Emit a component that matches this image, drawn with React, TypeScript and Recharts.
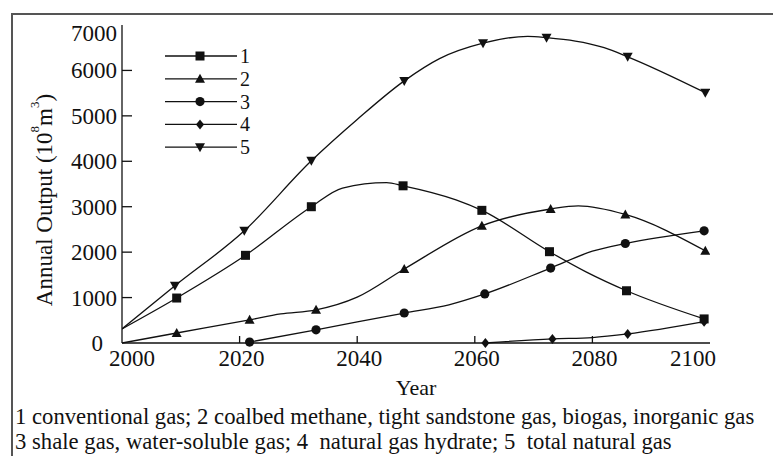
import React from 'react';
import { LineChart, Line, XAxis, YAxis, Legend } from 'recharts';

type Pt = { year: number; value: number; mark?: boolean };

const xTicks = [2000, 2020, 2040, 2060, 2080, 2100];
const yTicks = [0, 1000, 2000, 3000, 4000, 5000, 6000, 7000];

const seriesNames = ['1', '2', '3', '4', '5'];
const seriesShapes = ['square', 'triangle', 'circle', 'diamond', 'down'];

const captionLines = [
  '1 conventional gas; 2 coalbed methane, tight sandstone gas, biogas, inorganic gas',
  '3 shale gas, water-soluble gas; 4  natural gas hydrate; 5  total natural gas',
];

// 1 conventional gas
const conventional: Pt[] = [
  { year: 2000, value: 310 },
  { year: 2009.3, value: 990, mark: true },
  { year: 2021, value: 1930, mark: true },
  { year: 2032.2, value: 3000, mark: true },
  { year: 2037.5, value: 3410 },
  { year: 2045, value: 3530 },
  { year: 2047.8, value: 3460, mark: true },
  { year: 2056.8, value: 3150 },
  { year: 2061.2, value: 2920, mark: true },
  { year: 2072.7, value: 2010, mark: true },
  { year: 2079, value: 1560 },
  { year: 2085.8, value: 1150, mark: true },
  { year: 2099, value: 530, mark: true },
];

// 2 coalbed methane, tight sandstone gas, biogas, inorganic gas
const coalbed: Pt[] = [
  { year: 2000, value: 0 },
  { year: 2009.3, value: 220, mark: true },
  { year: 2021.7, value: 510, mark: true },
  { year: 2027, value: 640 },
  { year: 2033, value: 730, mark: true },
  { year: 2040, value: 1010 },
  { year: 2048, value: 1630, mark: true },
  { year: 2061.2, value: 2580, mark: true },
  { year: 2072.9, value: 2950, mark: true },
  { year: 2077.6, value: 3020 },
  { year: 2085.6, value: 2830, mark: true },
  { year: 2099.2, value: 2030, mark: true },
];

// 3 shale gas, water-soluble gas
const shale: Pt[] = [
  { year: 2021.7, value: 20, mark: true },
  { year: 2033, value: 290, mark: true },
  { year: 2048, value: 660, mark: true },
  { year: 2055.6, value: 840 },
  { year: 2061.7, value: 1080, mark: true },
  { year: 2072.9, value: 1650, mark: true },
  { year: 2080, value: 2020 },
  { year: 2085.6, value: 2190, mark: true },
  { year: 2099, value: 2470, mark: true },
];

// 4 natural gas hydrate
const hydrate: Pt[] = [
  { year: 2061.8, value: 0, mark: true },
  { year: 2073.2, value: 90, mark: true },
  { year: 2080, value: 120 },
  { year: 2086, value: 200, mark: true },
  { year: 2099, value: 470, mark: true },
];

// 5 total natural gas
const total: Pt[] = [
  { year: 2000, value: 310 },
  { year: 2009, value: 1260, mark: true },
  { year: 2020.8, value: 2470, mark: true },
  { year: 2032.2, value: 4010, mark: true },
  { year: 2040, value: 4920 },
  { year: 2048, value: 5770, mark: true },
  { year: 2054, value: 6260 },
  { year: 2061.4, value: 6600, mark: true },
  { year: 2069, value: 6750 },
  { year: 2072.2, value: 6720, mark: true },
  { year: 2082, value: 6500 },
  { year: 2086, value: 6300, mark: true },
  { year: 2099.2, value: 5510, mark: true },
];

const font = '"Liberation Serif", "Times New Roman", serif';
const ink = '#111';

function Marker({ shape, cx, cy }: { shape: string; cx: number; cy: number }) {
  switch (shape) {
    case 'square':
      return <rect x={cx - 4.5} y={cy - 4.5} width={9} height={9} fill={ink} />;
    case 'triangle':
      return <polygon points={`${cx},${cy - 5} ${cx + 5},${cy + 4} ${cx - 5},${cy + 4}`} fill={ink} />;
    case 'circle':
      return <circle cx={cx} cy={cy} r={4.6} fill={ink} />;
    case 'diamond':
      return <polygon points={`${cx},${cy - 5} ${cx + 4},${cy} ${cx},${cy + 5} ${cx - 4},${cy}`} fill={ink} />;
    default:
      return <polygon points={`${cx - 5},${cy - 4} ${cx + 5},${cy - 4} ${cx},${cy + 5}`} fill={ink} />;
  }
}

const makeDot = (shape: string) => (props: any) => {
  const { cx, cy, payload, index } = props;
  if (!payload || !payload.mark) return <g key={`n-${shape}-${index}`} />;
  return (
    <g key={`d-${shape}-${index}`}>
      <Marker shape={shape} cx={cx} cy={cy} />
    </g>
  );
};

function YTick(props: any) {
  const { x, y, payload } = props;
  const v = payload.value;
  const axisX = x + 5;
  let dx = 0;
  let dy = 0;
  if (v === 0) dx = -14;
  if (v === 7000) dy = 8;
  return (
    <g>
      {v !== 0 && v !== 7000 && <line x1={axisX} x2={axisX + 10} y1={y} y2={y} stroke={ink} strokeWidth={1.3} />}
      <text x={x + dx} y={y + dy} dy="0.35em" textAnchor="end" fontFamily={font} fontSize={23} fill={ink}>
        {v}
      </text>
    </g>
  );
}

function XTick(props: any) {
  const { x, y, payload } = props;
  const v = payload.value;
  let dx = 2;
  if (v === 2000) dx = 10;
  if (v === 2100) dx = -17;
  return (
    <g>
      {v !== 2000 && v !== 2100 && <line x1={x} x2={x} y1={y} y2={y - 7} stroke={ink} strokeWidth={1.3} />}
      <text x={x + dx} y={y + 23} textAnchor="middle" fontFamily={font} fontSize={23} fill={ink}>
        {v}
      </text>
    </g>
  );
}

const renderYTitle = (p: any) => {
  const vb = p.viewBox || { x: 0, y: 25, width: 122, height: 318 };
  const cx = vb.x + 44;
  const cy = vb.y + vb.height / 2 + 16;
  return (
    <text
      x={cx}
      y={cy}
      transform={`rotate(-90 ${cx} ${cy})`}
      textAnchor="middle"
      dominantBaseline="central"
      fontFamily={font}
      fontSize={23}
      fill={ink}
    >
      Annual Output (10
      <tspan fontSize={13} dy={-10}>8</tspan>
      <tspan dy={10}>m</tspan>
      <tspan fontSize={13} dy={-10}>3</tspan>
      <tspan dy={10}>)</tspan>
    </text>
  );
};

const renderXTitle = (p: any) => {
  const vb = p.viewBox || { x: 122, y: 343, width: 588, height: 30 };
  return (
    <text x={vb.x + vb.width / 2} y={vb.y + 52} textAnchor="middle" fontFamily={font} fontSize={22} fill={ink}>
      Year
    </text>
  );
};

const renderLegend = (props: any) => {
  const payload = props.payload || [];
  return (
    <svg width={110} height={118}>
      {payload.map((entry: any, i: number) => {
        const yy = 14 + i * 22.8;
        const idx = seriesNames.indexOf(String(entry.value));
        const shape = seriesShapes[idx >= 0 ? idx : i];
        return (
          <g key={`lg-${i}`}>
            <line x1={5} x2={77} y1={yy} y2={yy} stroke={ink} strokeWidth={1.3} />
            <Marker shape={shape} cx={40} cy={yy} />
            <text x={80} y={yy} dy="0.35em" fontFamily={font} fontSize={20} fill={ink}>
              {entry.value}
            </text>
          </g>
        );
      })}
    </svg>
  );
};

const seriesData = [conventional, coalbed, shale, hydrate, total];

export default function App() {
  return (
    <div
      style={{
        position: 'absolute',
        left: 0,
        top: 0,
        width: 773,
        height: 456,
        overflow: 'hidden',
        background: '#fff',
        fontFamily: font,
      }}
    >
      <div
        style={{
          position: 'absolute',
          left: 11,
          top: 13,
          width: 800,
          height: 500,
          borderTop: '2px solid #555',
          borderLeft: '2px solid #555',
        }}
      />
      <div style={{ position: 'absolute', left: 0, top: 0 }}>
        <LineChart width={773} height={400} margin={{ top: 25, right: 63, left: 0, bottom: 27 }}>
          <XAxis
            dataKey="year"
            type="number"
            domain={[2000, 2100]}
            ticks={xTicks}
            allowDataOverflow
            height={30}
            tickSize={0}
            tickMargin={0}
            tick={<XTick />}
            axisLine={{ stroke: ink, strokeWidth: 1.3 }}
            tickLine={false}
            label={{ content: renderXTitle }}
          />
          <YAxis
            type="number"
            domain={[0, 7000]}
            ticks={yTicks}
            width={122}
            tickSize={0}
            tickMargin={5}
            tick={<YTick />}
            axisLine={{ stroke: ink, strokeWidth: 1.3 }}
            tickLine={false}
            label={{ content: renderYTitle }}
          />
          <Legend
            layout="vertical"
            align="center"
            verticalAlign="middle"
            content={renderLegend}
            wrapperStyle={{ position: 'absolute', left: 160, top: 42, width: 110, height: 118 }}
          />
          {seriesData.map((d, i) => (
            <Line
              key={seriesNames[i]}
              data={d}
              dataKey="value"
              name={seriesNames[i]}
              type="monotone"
              stroke={ink}
              strokeWidth={1.3}
              dot={makeDot(seriesShapes[i])}
              activeDot={false}
              isAnimationActive={false}
              legendType="line"
            />
          ))}
        </LineChart>
      </div>
      {captionLines.map((line, i) => (
        <div
          key={i}
          style={{
            position: 'absolute',
            left: 15,
            top: 404 + i * 25,
            fontSize: 22.7,
            lineHeight: '26px',
            whiteSpace: 'pre',
            color: ink,
          }}
        >
          {line}
        </div>
      ))}
    </div>
  );
}
